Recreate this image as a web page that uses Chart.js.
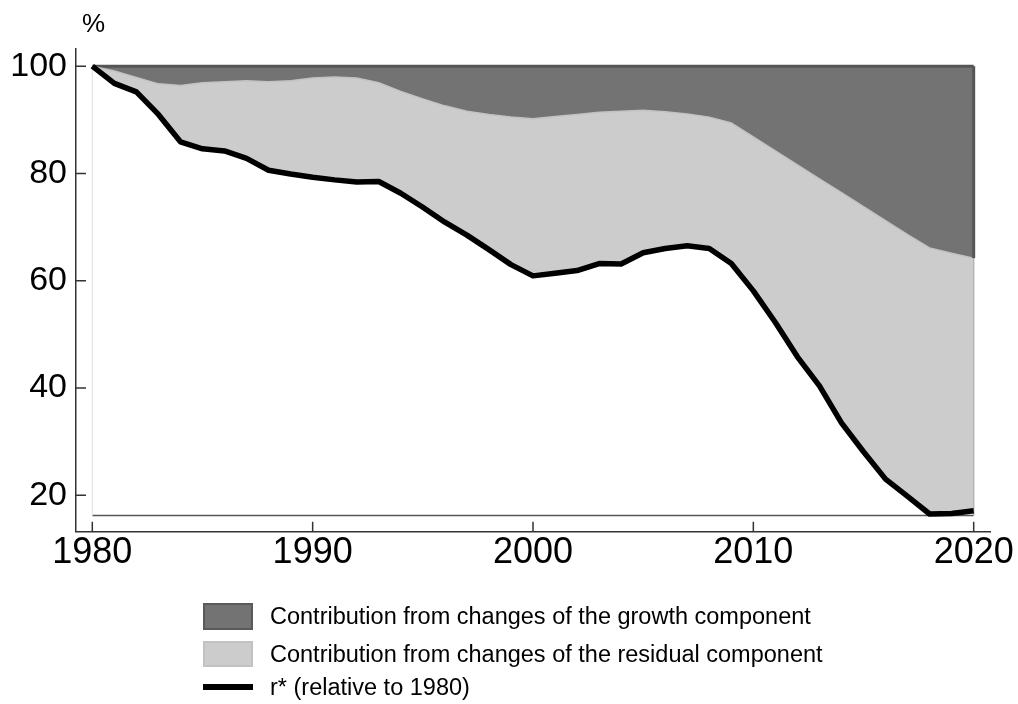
<!DOCTYPE html>
<html>
<head>
<meta charset="utf-8">
<script src="https://cdn.jsdelivr.net/npm/chart.js@4/dist/chart.umd.min.js"></script>
<style>
  body { margin: 0; background: #fff; font-family: "Liberation Sans", Arial, sans-serif; }
  #wrap { position: relative; width: 1018px; height: 704px; overflow: hidden; }
  #unit { position: absolute; left: 82px; top: 8px; font-size: 26px; color: #000; }
  .leg { position: absolute; left: 203px; width: 50px; box-sizing: border-box; }
  .legtext { position: absolute; left: 270px; font-size: 23.5px; color: #000; line-height: 26px; white-space: nowrap; }
</style>
</head>
<body>
<div id="wrap">
  <canvas id="myChart" width="1018" height="704"></canvas>
  <div id="unit">%</div>
  <div class="leg" style="top:603px;height:27px;background:#737373;border:2px solid #5a5a5a;"></div>
  <div class="legtext" style="top:603px;">Contribution from changes of the growth component</div>
  <div class="leg" style="top:641px;height:26px;background:#cccccc;border:2px solid #c2c2c2;"></div>
  <div class="legtext" style="top:641px;">Contribution from changes of the residual component</div>
  <div class="leg" style="top:684px;height:6px;background:#000;"></div>
  <div class="legtext" style="top:674px;">r* (relative to 1980)</div>
</div>
<script>
// données
const years = [1980, 1981, 1982, 1983, 1984, 1985, 1986, 1987, 1988, 1989,
    1990, 1991, 1992, 1993, 1994, 1995, 1996, 1997, 1998, 1999,
    2000, 2001, 2002, 2003, 2004, 2005, 2006, 2007, 2008, 2009,
    2010, 2011, 2012, 2013, 2014, 2015, 2016, 2017, 2018, 2019, 2020];

const rStar = [100, 96.8, 95.2, 91.0, 85.9, 84.6, 84.2, 82.8, 80.6, 79.9,
    79.3, 78.8, 78.4, 78.5, 76.3, 73.7, 70.9, 68.5, 65.8, 63.0,
    60.9, 61.4, 61.9, 63.2, 63.1, 65.2, 66.0, 66.5, 66.0, 63.2,
    58.1, 52.2, 45.8, 40.4, 33.5, 28.1, 23.0, 19.8, 16.5, 16.6, 17.1];

// limite entre composante croissance et composante résiduelle
const residualTop = [100, 99.1, 97.9, 96.7, 96.4, 96.9, 97.1, 97.3, 97.1, 97.3,
    97.8, 98.0, 97.8, 96.9, 95.3, 93.9, 92.6, 91.6, 91.0, 90.5,
    90.2, 90.6, 91.0, 91.4, 91.6, 91.8, 91.5, 91.1, 90.5, 89.4,
    86.8, 84.2, 81.6, 79.0, 76.4, 73.8, 71.2, 68.6, 66.1, 65.1, 64.2];

const growthTop = [100, 100, 100, 100, 100, 100, 100, 100, 100, 100,
    100, 100, 100, 100, 100, 100, 100, 100, 100, 100,
    100, 100, 100, 100, 100, 100, 100, 100, 100, 100,
    100, 100, 100, 100, 100, 100, 100, 100, 100, 100, 100];

const areaBase = 16.2;
const xTicks = [1980, 1990, 2000, 2010, 2020];
const yTicks = [20, 40, 60, 80, 100];

const pts = arr => years.map((y, i) => ({ x: y, y: arr[i] }));

// petits traits de graduation vers l'intérieur + bords des aires
const innerTicks = {
    id: "innerTicks",
    afterDatasetDraw(chart, args) {
        if (args.index !== 1) return;
        const ctx = chart.ctx;
        const xs = chart.scales.x, ys = chart.scales.y;
        const n = years.length - 1;
        const x0 = xs.getPixelForValue(years[0]);
        const x1 = xs.getPixelForValue(years[n]);
        const yb = ys.getPixelForValue(areaBase);
        ctx.save();
        // ligne de base
        ctx.strokeStyle = "#555";
        ctx.lineWidth = 1.5;
        ctx.beginPath();
        ctx.moveTo(x0, yb);
        ctx.lineTo(x1, yb);
        ctx.stroke();
        // bord gauche très clair
        ctx.strokeStyle = "#e2e2e2";
        ctx.lineWidth = 1;
        ctx.beginPath();
        ctx.moveTo(x0, ys.getPixelForValue(growthTop[0]));
        ctx.lineTo(x0, yb);
        ctx.stroke();
        // bord droit
        ctx.strokeStyle = "#b5b5b5";
        ctx.lineWidth = 1.5;
        ctx.beginPath();
        ctx.moveTo(x1, ys.getPixelForValue(residualTop[n]));
        ctx.lineTo(x1, yb);
        ctx.stroke();
        ctx.strokeStyle = "#555";
        ctx.lineWidth = 3;
        ctx.beginPath();
        ctx.moveTo(x1, ys.getPixelForValue(growthTop[n]));
        ctx.lineTo(x1, ys.getPixelForValue(residualTop[n]));
        ctx.stroke();
        ctx.restore();
    },
    afterDraw(chart) {
        const ctx = chart.ctx;
        const xs = chart.scales.x, ys = chart.scales.y;
        const area = chart.chartArea;
        ctx.save();
        ctx.strokeStyle = "#333";
        ctx.lineWidth = 1.5;
        ctx.beginPath();
        yTicks.forEach(v => {
            const p = ys.getPixelForValue(v);
            ctx.moveTo(area.left, p);
            ctx.lineTo(area.left + 10, p);
        });
        xTicks.forEach(v => {
            const p = xs.getPixelForValue(v);
            ctx.moveTo(p, area.bottom);
            ctx.lineTo(p, area.bottom - 10);
        });
        ctx.stroke();
        ctx.restore();
    }
};

const ctx = document.getElementById("myChart").getContext("2d");
new Chart(ctx, {
    type: "line",
    data: {
        datasets: [
            {
                label: "r* (relative to 1980)",
                data: pts(rStar),
                borderColor: "#000",
                borderWidth: 5.5,
                borderJoinStyle: "round",
                borderCapStyle: "butt",
                pointRadius: 0,
                fill: false
            },
            {
                label: "Contribution from changes of the residual component",
                data: pts(residualTop),
                borderColor: "#c2c2c2",
                borderWidth: 1.5,
                backgroundColor: "#cccccc",
                pointRadius: 0,
                fill: "-1"
            },
            {
                label: "Contribution from changes of the growth component",
                data: pts(growthTop),
                borderColor: "#555",
                borderWidth: 3,
                backgroundColor: "#737373",
                pointRadius: 0,
                fill: "-1"
            }
        ]
    },
    options: {
        responsive: false,
        animation: false,
        layout: { padding: { left: 0, top: 49, right: 28, bottom: 0 } },
        plugins: {
            legend: { display: false },
            tooltip: { enabled: false }
        },
        elements: { line: { tension: 0 } },
        scales: {
            x: {
                type: "linear",
                min: 1979.26,
                max: 2020.74,
                afterBuildTicks: s => { s.ticks = xTicks.map(v => ({ value: v })); },
                afterFit: s => { s.height = 172.3; },
                grid: { display: false, drawTicks: false },
                border: { display: true, color: "#333", width: 1.5 },
                ticks: {
                    padding: 0,
                    color: "#000",
                    maxRotation: 0,
                    autoSkip: false,
                    font: { family: "'Liberation Sans', Arial", size: 36 },
                    callback: v => String(v)
                }
            },
            y: {
                min: 13.2,
                max: 103.2,
                afterBuildTicks: s => { s.ticks = yTicks.map(v => ({ value: v })); },
                afterFit: s => { s.width = 76; },
                grid: { display: false, drawTicks: false },
                border: { display: true, color: "#333", width: 1.5 },
                ticks: {
                    padding: 9,
                    color: "#000",
                    font: { family: "'Liberation Sans', Arial", size: 34 },
                    callback: v => String(v)
                }
            }
        }
    },
    plugins: [innerTicks]
});
</script>
</body>
</html>
